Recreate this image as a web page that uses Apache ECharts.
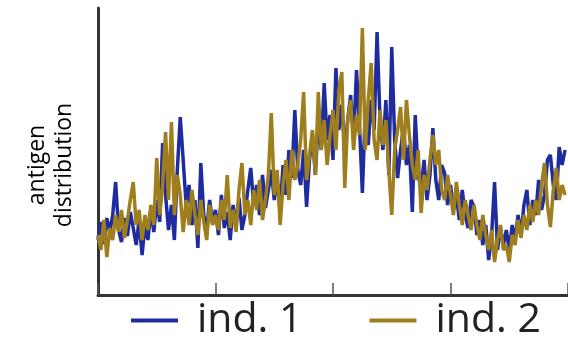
<!DOCTYPE html>
<html>
<head>
<meta charset="utf-8">
<script src="https://cdn.jsdelivr.net/npm/echarts@6/dist/echarts.min.js"></script>
<style>html,body{margin:0;padding:0;background:#fff}#c{width:568px;height:342px}</style>
</head>
<body>
<div id="c"></div>
<script>
// antigen distribution (arbitrary units), one sample per position index 0..159
const ind1 = [
55,73,51,77,63,80,113,65,53,77,
59,83,67,50,75,40,70,55,85,63,
95,73,152,100,65,90,55,125,178,135,
90,110,70,95,47,132,80,65,95,73,
85,60,100,67,83,55,90,70,97,65,
80,105,127,90,110,80,120,87,105,125,
95,115,85,130,100,145,117,185,125,110,
145,88,135,160,120,175,145,212,155,180,
135,227,165,190,145,175,200,155,225,170,
102,185,150,195,165,263,175,145,195,120,
248,155,117,145,167,130,150,83,180,120,
105,135,95,120,167,115,95,130,122,90,
110,85,100,75,105,80,67,95,88,60,
75,50,70,35,60,113,45,67,50,65,
45,70,55,80,60,90,105,70,95,80,
115,85,100,135,140,110,95,148,130,145
];
const ind2 = [
60,45,75,38,67,55,80,63,85,57,
75,95,113,70,85,55,80,65,90,70,
137,80,110,163,95,173,80,120,100,63,
95,70,105,80,60,95,73,55,90,70,
80,65,95,75,120,67,85,63,105,132,
80,95,70,105,85,115,75,95,120,182,
100,125,70,110,135,95,145,115,130,155,
203,115,140,165,120,203,145,175,130,160,
185,145,205,223,107,175,195,145,180,160,
267,145,195,232,155,135,185,150,175,125,
80,145,165,188,135,195,160,130,115,145,
82,120,105,135,160,130,145,105,95,120,
100,80,113,90,70,95,80,65,90,70,
55,80,60,45,65,33,55,70,45,50,
33,60,50,75,57,80,65,90,73,95,
80,110,132,90,68,105,127,95,110,100
];
const seriesNames = ['ind. 1', 'ind. 2'];
const seriesColors = ['#1f2c9f', '#9f7e1d'];
const yLabel = 'antigen\ndistribution';

const chart = echarts.init(document.getElementById('c'), null, {renderer: 'canvas'});
const toPairs = arr => arr.map((v, i) => [i, v]);
chart.setOption({
  animation: false,
  grid: {left: 98, top: 8, width: 472, bottom: 47, containLabel: false},
  xAxis: {
    type: 'value', min: 0, max: 160, interval: 40,
    axisLine: {show: true, lineStyle: {color: '#333', width: 3}},
    axisTick: {show: true, inside: true, length: 12, lineStyle: {color: '#555', width: 1.5}},
    axisLabel: {show: false},
    splitLine: {show: false}
  },
  yAxis: {
    type: 'value', min: 0, max: 287,
    axisLine: {show: true, lineStyle: {color: '#333', width: 3}},
    axisTick: {show: false},
    axisLabel: {show: false},
    splitLine: {show: false}
  },
  legend: {
    left: 126, top: 295,
    itemWidth: 47, itemHeight: 4, itemGap: 67,
    icon: 'rect',
    textStyle: {fontFamily: 'Open Sans', fontSize: 41, color: '#222', padding: [0, 0, 0, 14]},
    data: seriesNames
  },
  graphic: [{
    type: 'text', x: 51, y: 165, rotation: Math.PI / 2,
    style: {text: yLabel, font: '23px "Open Sans"', fill: '#000', align: 'center', verticalAlign: 'middle', lineHeight: 27}
  }],
  series: [
    {name: seriesNames[0], type: 'line', data: toPairs(ind1), showSymbol: false, color: seriesColors[0], lineStyle: {width: 3.5}},
    {name: seriesNames[1], type: 'line', data: toPairs(ind2), showSymbol: false, color: seriesColors[1], lineStyle: {width: 3.5}}
  ]
});
</script>
</body>
</html>
